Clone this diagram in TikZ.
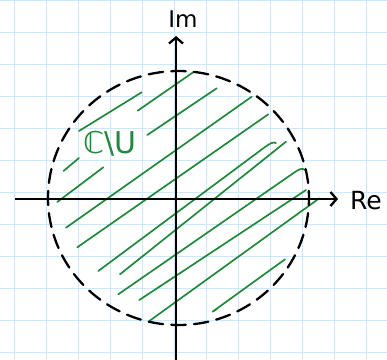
\documentclass[tikz,border=0pt]{standalone}
\usepackage{fontspec}
\setmainfont{DejaVu Sans}
\usetikzlibrary{arrows.meta}
\definecolor{gridblue}{RGB}{204,232,252}
\definecolor{hatch}{RGB}{34,136,62}
\begin{document}
\begin{tikzpicture}[x=1pt,y=-1pt,
  gridline/.style={draw=gridblue,line width=1.6pt},
  axisline/.style={line width=2.3pt,-{Straight Barb[length=6pt,width=14pt,line width=2.3pt]}},
  dashc/.style={line width=2.3pt,line cap=round},
  hatchline/.style={draw=hatch,line width=1.7pt,line cap=round,line join=round},
  lbl/.style={inner sep=0pt,font=\fontsize{23}{23}\selectfont},
]
\useasboundingbox[fill=white] (0,0) rectangle (387,359);
% grid
\foreach \gx in {14.5,46.5,...,367} \draw[gridline] (\gx,0) -- (\gx,359);
\foreach \gy in {0.5,32.5,...,353} \draw[gridline] (0,\gy) -- (387,\gy);
% hatching
\draw[hatchline] (79,131) -- (141.7,92.3);
\draw[hatchline] (137.7,110.7) -- (194,71.7);
\draw[hatchline] (147.3,135) -- (216.7,88.3);
\draw[hatchline] (63.5,171) -- (79,158);
\draw[hatchline] (57.3,202) -- (103.3,167.3);
\draw[hatchline] (66,227.7) -- (251.7,96.7);
\draw[hatchline] (77.3,247.3) -- (268.3,114.3);
\draw[hatchline] (98.3,271) -- (265,147) .. controls (270,143.5) and (273,141.5) .. (276,143);
\draw[hatchline] (120,274.3) -- (286,141.7);
\draw[hatchline] (118.3,294.3) -- (295,172) .. controls (299,169.5) and (302,167.5) .. (305,170);
\draw[hatchline] (139.3,300) -- (306,190);
\draw[hatchline] (149.3,321) -- (319.3,198.3);
\draw[hatchline] (217,309) -- (212.5,311.7) -- (285,259.3);
% dashed circle
\foreach \a in {0,10,...,350}
  \draw[dashc] plot[domain=\a-3.2:\a+3.2,samples=6] ({178.5+130.5*cos(\x)},{198+127*sin(\x)});
% axes
\coordinate (xl) at (15,199);
\coordinate (xr) at (338,199);
\coordinate (yb) at (176,362);
\coordinate (yt) at (176,36);
\draw[axisline] (xl) -- (xr);
\draw[axisline] (yb) -- (yt);
% labels
\node[lbl] (im) at (183,19) {Im};
\node[lbl,font=\fontsize{25}{25}\selectfont] (re) at (366,201) {Re};
\node[lbl,text=hatch,font=\fontsize{30}{30}\selectfont] (cu) at (110,143.5) {ℂ\textbackslash U};
\end{tikzpicture}
\end{document}
